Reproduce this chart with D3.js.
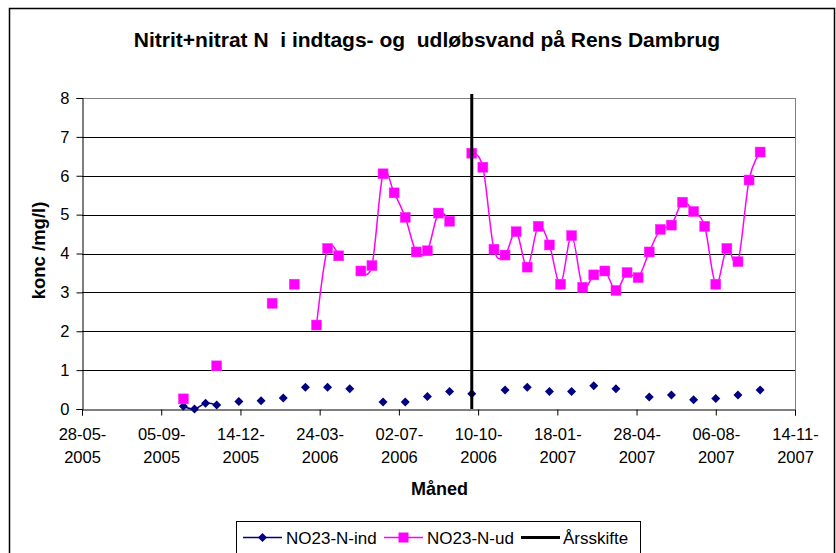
<!DOCTYPE html>
<html>
<head>
    <meta charset="utf-8">
    <title>Nitrit+nitrat N</title>
    <script src="https://cdn.jsdelivr.net/npm/d3@7/dist/d3.min.js"></script>
    <style>
        body { margin: 0; background: #fff; }
        text { font-family: "Liberation Sans", Arial, sans-serif; }
    </style>
</head>
<body>
<script>
    // datoer (hver anden mandag)
    var dates = [
        '2005-10-03', '2005-10-17', '2005-10-31', '2005-11-14', '2005-11-28', '2005-12-12', '2005-12-26',
        '2006-01-09', '2006-01-23', '2006-02-06', '2006-02-20', '2006-03-06', '2006-03-20', '2006-04-03',
        '2006-04-17', '2006-05-01', '2006-05-15', '2006-05-29', '2006-06-12', '2006-06-26', '2006-07-10',
        '2006-07-24', '2006-08-07', '2006-08-21', '2006-09-04', '2006-09-18', '2006-10-02', '2006-10-16',
        '2006-10-30', '2006-11-13', '2006-11-27', '2006-12-11', '2006-12-25', '2007-01-08', '2007-01-22',
        '2007-02-05', '2007-02-19', '2007-03-05', '2007-03-19', '2007-04-02', '2007-04-16', '2007-04-30',
        '2007-05-14', '2007-05-28', '2007-06-11', '2007-06-25', '2007-07-09', '2007-07-23', '2007-08-06',
        '2007-08-20', '2007-09-03', '2007-09-17', '2007-10-01'
    ];
    var no23Ind = [
        0.07, 0.00, 0.15, 0.10, null, 0.19, null,
        0.21, null, 0.28, null, 0.56, null, 0.56,
        null, 0.52, null, null, 0.18, null, 0.18,
        null, 0.32, null, 0.45, null, 0.39, null,
        null, 0.49, null, 0.56, null, 0.45, null,
        0.45, null, 0.60, null, 0.52, null, null,
        0.31, null, 0.36, null, 0.24, null, 0.27,
        null, 0.36, null, 0.49
    ];
    var no23Ud = [
        0.26, null, null, 1.11, null, null, null,
        null, 2.72, null, 3.21, null, 2.16, 4.13,
        3.94, null, 3.55, 3.69, 6.05, 5.56, 4.93,
        4.04, 4.07, 5.04, 4.83, null, 6.58, 6.22,
        4.11, 3.96, 4.56, 3.65, 4.70, 4.22, 3.21,
        4.46, 3.13, 3.45, 3.55, 3.05, 3.51, 3.38,
        4.04, 4.62, 4.73, 5.32, 5.08, 4.70, 3.21,
        4.13, 3.79, 5.89, 6.61
    ];
    var aarsskifteDates = ['2006-10-02', '2006-10-02'];
    var aarsskifteValues = [0, 8.1];
    var xTickLabels = ['28-05-2005', '05-09-2005', '14-12-2005', '24-03-2006', '02-07-2006',
        '10-10-2006', '18-01-2007', '28-04-2007', '06-08-2007', '14-11-2007'];
    var yTicks = [0, 1, 2, 3, 4, 5, 6, 7, 8];

    var width = 836, height = 553;
    var plot = {left: 82, right: 795, top: 98, bottom: 409};

    var parseIso = d3.utcParse('%Y-%m-%d');
    var parseLbl = d3.utcParse('%d-%m-%Y');
    var fmtTop = d3.utcFormat('%d-%m-');
    var fmtBottom = d3.utcFormat('%Y');

    var xTicks = xTickLabels.map(parseLbl);

    var svg = d3.select('body').append('svg').attr('width', width).attr('height', height);

    // ydre ramme
    svg.append('rect').attr('x', 9.5).attr('y', 8.5).attr('width', 825).attr('height', 560)
        .attr('fill', '#fff').attr('stroke', '#000').attr('stroke-width', 1.5);

    var x = d3.scaleUtc().domain([xTicks[0], xTicks[xTicks.length - 1]]).range([plot.left, plot.right]);
    var y = d3.scaleLinear().domain([0, 8]).range([plot.bottom, plot.top]);

    // gitterlinjer
    svg.append('g').selectAll('line').data(yTicks.slice(1)).enter().append('line')
        .attr('x1', plot.left).attr('x2', plot.right)
        .attr('y1', function (d) { return Math.round(y(d)) + 0.5; })
        .attr('y2', function (d) { return Math.round(y(d)) + 0.5; })
        .attr('stroke', function (d) { return d === 8 ? '#808080' : '#000'; })
        .attr('stroke-width', 1);
    svg.append('line').attr('x1', plot.right + 0.5).attr('x2', plot.right + 0.5)
        .attr('y1', plot.top).attr('y2', plot.bottom).attr('stroke', '#808080');

    // y-akse
    var yAxis = svg.append('g').attr('transform', 'translate(' + (plot.left + 0.5) + ',0)')
        .call(d3.axisLeft(y).tickValues(yTicks).tickSize(6).tickPadding(7).tickFormat(d3.format('d')));
    yAxis.selectAll('text').attr('font-size', 16.5).attr('fill', '#000')
        .style('font-family', '"Liberation Sans", Arial, sans-serif');

    // x-akse
    var xAxis = svg.append('g').attr('transform', 'translate(0,' + (plot.bottom + 0.5) + ')')
        .call(d3.axisBottom(x).tickValues(xTicks).tickSize(6).tickFormat(''));
    xAxis.selectAll('.tick').append('text')
        .attr('fill', '#000').attr('font-size', 16.5).attr('text-anchor', 'middle')
        .each(function (d) {
            var t = d3.select(this);
            t.append('tspan').attr('x', 0).attr('y', 30).text(fmtTop(d));
            t.append('tspan').attr('x', 0).attr('y', 53).text(fmtBottom(d));
        });
    svg.selectAll('.domain').attr('stroke', '#000');
    svg.selectAll('.tick line').attr('stroke', '#000');

    // serier
    function pts(vals) {
        return dates.map(function (d, i) { return {date: parseIso(d), v: vals[i]}; });
    }
    var line = d3.line()
        .defined(function (d) { return d.v !== null; })
        .x(function (d) { return x(d.date); })
        .y(function (d) { return y(d.v); })
        .curve(d3.curveCardinal.tension(0));

    var indPts = pts(no23Ind), udPts = pts(no23Ud);

    svg.append('path').datum(indPts).attr('d', line)
        .attr('fill', 'none').attr('stroke', '#000080').attr('stroke-width', 1.5);
    svg.append('path').datum(udPts).attr('d', line)
        .attr('fill', 'none').attr('stroke', '#ff00ff').attr('stroke-width', 1.5);

    var diamond = 'M0,-4.5L4.5,0L0,4.5L-4.5,0Z';
    svg.append('g').selectAll('path').data(indPts.filter(function (d) { return d.v !== null; }))
        .enter().append('path')
        .attr('d', diamond)
        .attr('transform', function (d) { return 'translate(' + x(d.date) + ',' + y(d.v) + ')'; })
        .attr('fill', '#000080');
    svg.append('g').selectAll('rect').data(udPts.filter(function (d) { return d.v !== null; }))
        .enter().append('rect')
        .attr('x', function (d) { return x(d.date) - 5; })
        .attr('y', function (d) { return y(d.v) - 5; })
        .attr('width', 10).attr('height', 10)
        .attr('fill', '#ff00ff').attr('stroke', '#ff33ff').attr('stroke-width', 0.5);

    // årsskifte
    var aarsPts = aarsskifteDates.map(function (d, i) { return {date: parseIso(d), v: aarsskifteValues[i]}; });
    svg.append('path').datum(aarsPts)
        .attr('d', d3.line().x(function (d) { return x(d.date); }).y(function (d) { return y(d.v); }))
        .attr('stroke', '#000').attr('stroke-width', 3).attr('fill', 'none');

    // titler
    svg.append('text').attr('x', 427).attr('y', 47).attr('text-anchor', 'middle')
        .attr('font-size', 21).attr('font-weight', 'bold').style('white-space', 'pre')
        .text('Nitrit+nitrat N  i indtags- og  udløbsvand på Rens Dambrug');
    svg.append('text').attr('transform', 'translate(45,' + ((plot.top + plot.bottom) / 2 - 3) + ') rotate(-90)')
        .attr('text-anchor', 'middle').attr('font-size', 18.5).attr('font-weight', 'bold')
        .text('konc /mg/l)');
    svg.append('text').attr('x', 439.5).attr('y', 495).attr('text-anchor', 'middle')
        .attr('font-size', 18).attr('font-weight', 'bold').text('Måned');

    // legende
    var lg = svg.append('g');
    lg.append('rect').attr('x', 236.5).attr('y', 521.5).attr('width', 404).attr('height', 40)
        .attr('fill', '#fff').attr('stroke', '#000');
    var legendItems = [
        {name: 'NO23-N-ind', color: '#000080', x1: 243, x2: 282, tx: 286, mark: 'diamond'},
        {name: 'NO23-N-ud', color: '#ff00ff', x1: 384, x2: 423, tx: 427, mark: 'square'},
        {name: 'Årsskifte', color: '#000', x1: 521, x2: 560, tx: 563, mark: null}
    ];
    var ly = 537.5;
    legendItems.forEach(function (it) {
        lg.append('line').attr('x1', it.x1).attr('x2', it.x2).attr('y1', ly).attr('y2', ly)
            .attr('stroke', it.color).attr('stroke-width', it.mark ? 1.5 : 3);
        var cx = (it.x1 + it.x2) / 2;
        if (it.mark === 'diamond') {
            lg.append('path').attr('d', diamond).attr('transform', 'translate(' + cx + ',' + ly + ')')
                .attr('fill', it.color);
        } else if (it.mark === 'square') {
            lg.append('rect').attr('x', cx - 5).attr('y', ly - 5).attr('width', 10).attr('height', 10)
                .attr('fill', it.color);
        }
        lg.append('text').attr('x', it.tx).attr('y', ly + 6).attr('font-size', 17).text(it.name);
    });
</script>
</body>
</html>
